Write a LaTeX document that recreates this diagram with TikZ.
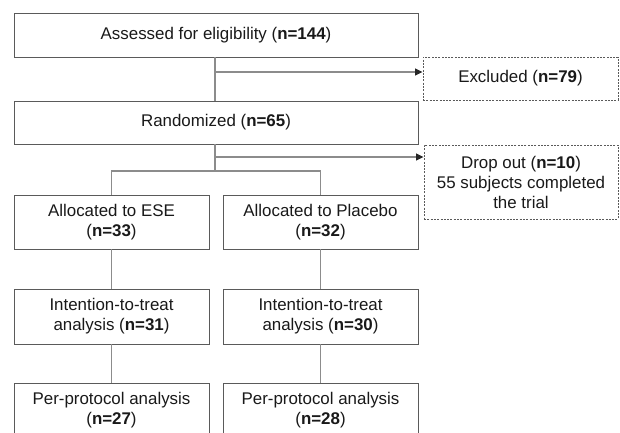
\documentclass[tikz,border=0pt]{standalone}
\usepackage{fontspec}
\setmainfont{Liberation Sans}
\usetikzlibrary{arrows.meta,calc}
\definecolor{boxline}{HTML}{5A5A5A}
\definecolor{conn}{HTML}{8C8C8C}
\tikzset{
  box/.style={draw=boxline, line width=0.9pt, align=center, inner sep=2pt,
    font=\fontsize{16.9}{20}\selectfont, text=black!90},
  solidbox/.style={box},
  dashbox/.style={box, dash pattern=on 2pt off 1.3pt},
  conline/.style={draw=conn, line width=1.2pt},
  conarrow/.style={conline, -{Triangle[length=7.5pt,width=7pt,color=black!85]}},
}
\begin{document}
\begin{tikzpicture}[x=1pt,y=-1pt]
\useasboundingbox (0,0) rectangle (620,432);
\clip (0,0) rectangle (620,432);
\node[solidbox, minimum width=404pt, minimum height=44pt] (assessed) at (216,35) {Assessed for eligibility (\textbf{n=144})};
\node[dashbox, minimum width=195pt, minimum height=43pt] (excluded) at (520.5,78.5) {Excluded (\textbf{n=79})};
\node[solidbox, minimum width=404pt, minimum height=43pt] (random) at (216,122.5) {Randomized (\textbf{n=65})};
\node[dashbox, minimum width=194pt, minimum height=74pt] (drop) at (521,182) {Drop out (\textbf{n=10})\\55 subjects completed\\the trial};
\node[solidbox, minimum width=195pt, minimum height=54pt] (allocE) at (111.5,222) {Allocated to ESE\\(\textbf{n=33})};
\node[solidbox, minimum width=195pt, minimum height=54pt] (allocP) at (320.5,222) {Allocated to Placebo\\(\textbf{n=32})};
\node[solidbox, minimum width=195pt, minimum height=55pt] (ittE) at (111.5,316.5) {Intention-to-treat\\analysis (\textbf{n=31})};
\node[solidbox, minimum width=195pt, minimum height=55pt] (ittP) at (320.5,316.5) {Intention-to-treat\\analysis (\textbf{n=30})};
\node[solidbox, minimum width=195pt, minimum height=55pt] (ppE) at (111.5,410.5) {Per-protocol analysis\\(\textbf{n=27})};
\node[solidbox, minimum width=195pt, minimum height=55pt] (ppP) at (320.5,410.5) {Per-protocol analysis\\(\textbf{n=28})};
\coordinate (ex) at (215,72);
\coordinate (dr) at (215,157);
\coordinate (br) at (215,171);
\draw[conline] (assessed.south -| ex) -- (random.north -| ex);
\draw[conarrow] (ex) -- (ex -| excluded.west);
\draw[conline] (random.south -| br) -- (br);
\draw[conarrow] (dr) -- (dr -| drop.west);
\draw[conline] (allocE.north) -- (br -| allocE.north) -- (br -| allocP.north) -- (allocP.north);
\draw[conline] (allocE.south) -- (ittE.north);
\draw[conline] (allocP.south) -- (ittP.north);
\draw[conline] (ittE.south) -- (ppE.north);
\draw[conline] (ittP.south) -- (ppP.north);
\end{tikzpicture}
\end{document}
